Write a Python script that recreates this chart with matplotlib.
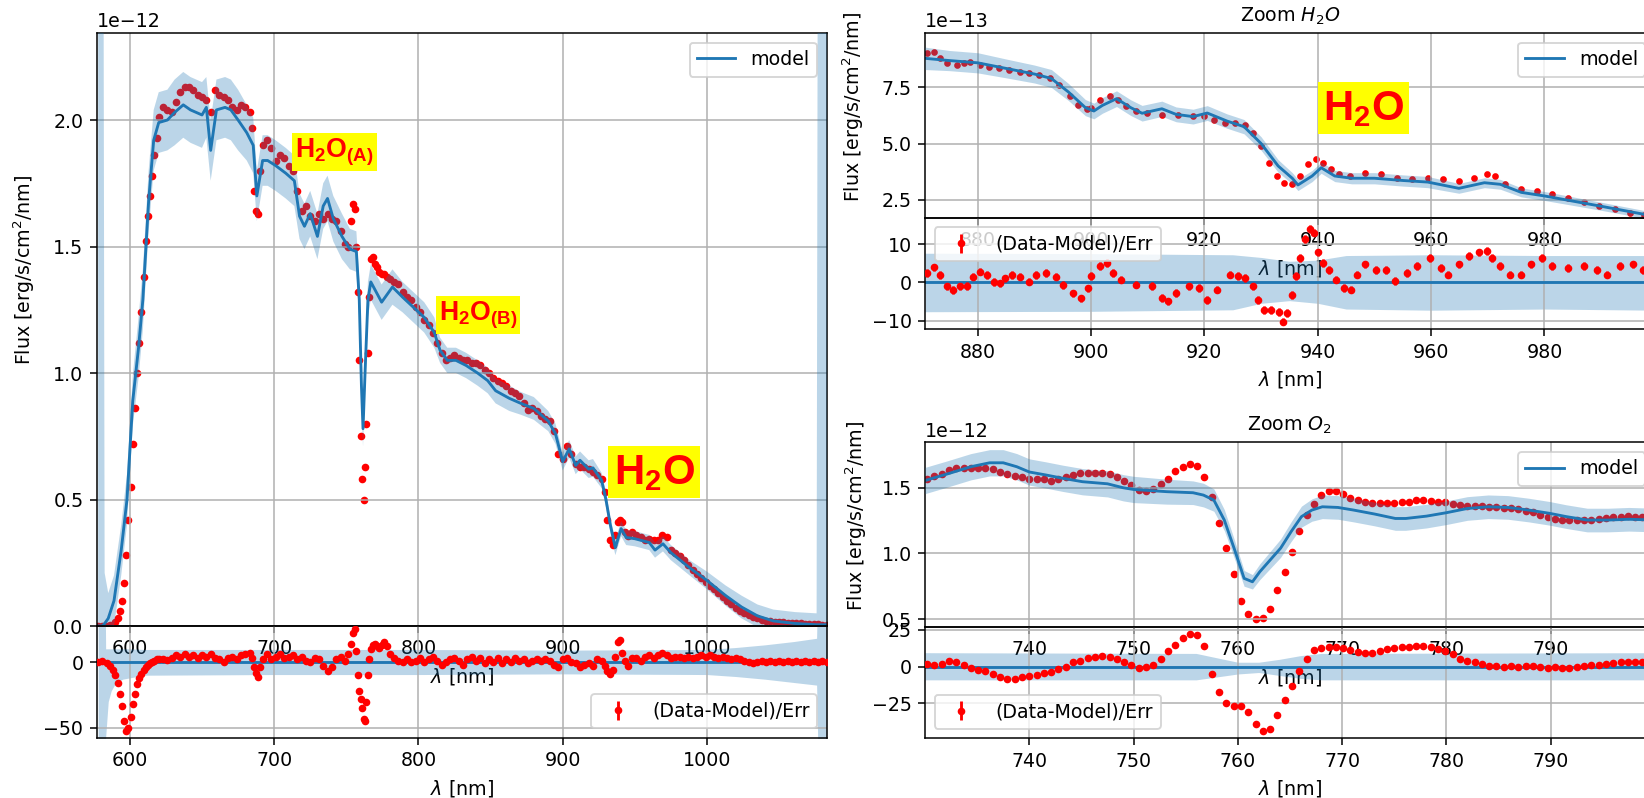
import numpy as np
import matplotlib.pyplot as plt
from matplotlib import font_manager

# ---------------- full spectrum (left), flux in 1e-12 erg/s/cm2/nm ----------------
wl_data = [578, 581, 584, 586, 588, 590, 591.5, 593, 594.5, 596, 597.5, 599, 600.5, 602, 603.5, 605,
           606.5, 608, 609.5, 611, 612.5, 614, 615.5, 617, 618.5, 620, 623, 626, 629, 632, 635, 638,
           641, 644, 647, 650, 653, 656, 659, 662, 665, 668, 671, 674, 677, 680, 683, 684.5, 686,
           687.5, 689, 690.5, 692, 695, 698, 701, 704, 707, 710, 713, 716, 719, 722, 725, 728, 731,
           734, 737, 740, 743, 746, 749, 751, 753, 754.5, 756, 757, 758, 759, 760, 761, 762, 763,
           764, 765, 766, 767, 768.5, 770, 771.5, 773, 774.5, 776, 778, 780, 783, 786, 789, 792,
           795, 798, 801, 804, 807, 810, 813, 816, 819, 822, 825, 828, 831, 834, 837, 840, 843,
           846, 849, 852, 855, 858, 861, 864, 867, 870, 873, 876, 879, 882, 885, 888, 891, 894,
           897, 900, 903, 906, 909, 912, 915, 918, 921, 924, 927, 929, 931, 933, 935, 936.5, 938,
           939.5, 941, 943, 945, 948, 951, 954, 957, 960, 963, 966, 969, 972, 975, 978, 981, 984,
           987, 990, 993, 996, 999, 1002, 1005, 1008, 1011, 1014, 1017, 1020, 1023, 1026, 1029,
           1032, 1035, 1038, 1041, 1044, 1047, 1050, 1053, 1056, 1059, 1062, 1065, 1068, 1071,
           1074, 1077, 1080, 1083]
flux_data = [0.0, 0.0, 0.0, 0.002, 0.005, 0.015, 0.03, 0.06, 0.10, 0.17, 0.28, 0.42, 0.55, 0.72, 0.86,
             1.00, 1.12, 1.24, 1.38, 1.52, 1.62, 1.70, 1.78, 1.86, 1.93, 2.01, 2.05, 2.04, 2.03, 2.07,
             2.11, 2.13, 2.13, 2.12, 2.10, 2.09, 2.08, 2.03, 2.12, 2.10, 2.09, 2.08, 2.05, 2.04, 2.06,
             2.05, 2.03, 1.97, 1.72, 1.64, 1.63, 1.80, 1.90, 1.92, 1.89, 1.84, 1.86, 1.85, 1.82, 1.80,
             1.72, 1.64, 1.66, 1.62, 1.60, 1.63, 1.61, 1.63, 1.61, 1.60, 1.56, 1.51, 1.50, 1.60, 1.67,
             1.65, 1.50, 1.32, 1.05, 0.75, 0.58, 0.50, 0.63, 0.80, 1.08, 1.30, 1.45, 1.46, 1.43, 1.42,
             1.40, 1.39, 1.39, 1.38, 1.37, 1.36, 1.35, 1.32, 1.30, 1.29, 1.26, 1.24, 1.21, 1.19, 1.16,
             1.12, 1.08, 1.05, 1.06, 1.07, 1.06, 1.05, 1.05, 1.04, 1.04, 1.03, 1.01, 1.00, 0.98, 0.97,
             0.96, 0.95, 0.93, 0.92, 0.91, 0.88, 0.855, 0.86, 0.85, 0.83, 0.82, 0.81, 0.77, 0.68, 0.66,
             0.71, 0.68, 0.64, 0.63, 0.63, 0.62, 0.61, 0.595, 0.58, 0.53, 0.42, 0.34, 0.32, 0.36, 0.41,
             0.42, 0.41, 0.37, 0.355, 0.37, 0.36, 0.35, 0.34, 0.345, 0.34, 0.34, 0.36, 0.35, 0.30,
             0.29, 0.275, 0.26, 0.24, 0.22, 0.205, 0.19, 0.175, 0.16, 0.145, 0.13, 0.115, 0.10, 0.085,
             0.07, 0.06, 0.05, 0.042, 0.035, 0.03, 0.025, 0.021, 0.019, 0.017, 0.015, 0.014, 0.013,
             0.012, 0.011, 0.01, 0.009, 0.008, 0.007, 0.006, 0.005, 0.004]
resid_data = [0, 0.5, -1, -3, -6, -10, -16, -24, -33, -45, -52, -50, -42, -32, -24, -17, -12, -9, -6,
              -4, -2, -1, 0, 1, 2, 2, 2.5, 1.5, 3, 5, 4, 6, 4, 5, 3, 5, 4, 6, 3, 2, 0, 3, 4, 2, 5, 6,
              7, 3, -4, -8, -11, -4, 2, 6, 2, 4, 6, 3, 4, 5, 2, 4, 1, 0, 3, 2, -3, -7, -4, 2, 4, 1, 6,
              14, 22, 25, 8, -10, -22, -28, -35, -43, -45, -30, -10, 2, 10, 13, 14, 12, 11, 13, 15, 12,
              6, 3, 1, 0, 2, 0, 1, 3, 0, 2, 4, 1, -2, 0, 2, 3, 1, -2, 2, 4, 1, 3, -1, 2, 0, 3, -1, 2,
              0, 3, 1, 2, -1, 1, 2, 1, 2, 1, -2, -4, 2, 3, 0, -1, -4, -2, -1, -3, 2, 1, -3, -7, -9,
              -6, 4, 15, 17, 7, 1, -3, 3, 3, 1, 4, 5, 3, 5, 7, 5, 3, 4, 4, 3, 4, 3, 4, 5, 4, 5, 4,
              3, 4, 3, 2, 3, 2, 1, 0, -1, 0, 1, 0, 1, 0, 1, 0, 1, 0, 1, 0, 1, 0, 1, 0, 1, 0]

wl_model = [578, 581, 582.5, 585, 589, 594, 598, 602, 606, 609, 613, 616.5, 620, 626, 631, 637, 642,
            650, 653, 656, 660, 666, 670, 675, 681, 685.5, 688, 692, 695.5, 701, 708, 714, 717.6, 721,
            725, 730, 734, 737, 741, 747, 752.5, 757, 759, 760.5, 761.6, 763, 765, 767, 774.5, 782,
            789, 796.5, 804, 811, 815, 820, 826, 833, 841, 848, 853.5, 863, 871, 880, 890, 895, 900,
            904.5, 909, 912, 918, 921, 927, 930, 933, 936.5, 940.5, 944, 950, 960, 964, 969.5, 975,
            980, 988, 1000, 1013, 1024, 1035, 1046, 1061, 1076, 1077.5, 1083]
flux_model = [0.0, 0.0, 0.01, 0.03, 0.10, 0.30, 0.50, 0.89, 1.10, 1.29, 1.68, 1.92, 1.99, 2.00, 2.03,
              2.06, 2.04, 2.02, 2.05, 1.88, 2.04, 2.05, 2.04, 2.00, 1.95, 1.90, 1.70, 1.84, 1.84, 1.82,
              1.79, 1.76, 1.62, 1.58, 1.63, 1.54, 1.66, 1.69, 1.61, 1.54, 1.49, 1.48, 1.29, 0.95, 0.78,
              1.00, 1.29, 1.36, 1.28, 1.34, 1.30, 1.26, 1.22, 1.16, 1.09, 1.05, 1.05, 1.03, 1.00, 0.97,
              0.93, 0.90, 0.88, 0.86, 0.81, 0.76, 0.65, 0.70, 0.635, 0.655, 0.62, 0.625, 0.575, 0.50,
              0.40, 0.31, 0.385, 0.35, 0.345, 0.33, 0.30, 0.325, 0.29, 0.267, 0.23, 0.18, 0.12, 0.075,
              0.04, 0.02, 0.01, 0.005, 0.005, 0.005]
err_model = [5, 5, 0.2, 0.1, 0.1, 0.1, 0.1, 0.1, 0.12, 0.12, 0.12, 0.12, 0.12, 0.12, 0.13, 0.13, 0.13,
             0.13, 0.12, 0.12, 0.12, 0.12, 0.12, 0.12, 0.11, 0.11, 0.10, 0.10, 0.10, 0.10, 0.10, 0.10,
             0.09, 0.09, 0.09, 0.09, 0.09, 0.09, 0.09, 0.09, 0.08, 0.08, 0.08, 0.07, 0.07, 0.07, 0.07,
             0.07, 0.07, 0.07, 0.06, 0.06, 0.06, 0.06, 0.05, 0.05, 0.05, 0.05, 0.05, 0.05, 0.05, 0.05,
             0.045, 0.045, 0.04, 0.04, 0.035, 0.035, 0.035, 0.035, 0.035, 0.035, 0.03, 0.03, 0.03,
             0.03, 0.03, 0.03, 0.03, 0.03, 0.03, 0.03, 0.03, 0.03, 0.03, 0.035, 0.04, 0.045, 0.045,
             0.045, 0.045, 0.045, 5, 5]

# residual error band of the full spectrum (lower / upper edge)
wl_rband = [578, 582.5, 583.2, 585, 587, 590, 595, 600, 610, 700, 800, 900, 1000, 1020, 1040, 1060,
            1076, 1077.5, 1083]
rband_lo = [-100, -100, -57, -30, -22, -16, -13, -12, -10, -9.5, -9.5, -9, -9.5, -11, -13, -15.5,
            -17.5, -100, -100]
rband_hi = [100, 100, 10, 10, 10, 10, 10, 10, 9.5, 9.5, 9.5, 9, 9.5, 11, 13, 15.5, 18, 100, 100]

# ---------------- zoom on H2O band, flux in 1e-13 ----------------
h2o_wl = [871.0, 872.2, 873.3, 874.5, 876.3, 877.5, 878.7, 880.4, 882.0, 883.8, 885.6, 887.4, 889.1,
          890.9, 892.7, 894.4, 896.2, 897.7, 899.2, 900.0, 901.6, 903.4, 904.8, 906.1, 908.0, 909.8,
          912.6, 915.3, 918.0, 919.9, 921.7, 923.6, 925.4, 927.2, 928.6, 930.0, 931.4, 932.8, 934.1,
          935.5, 936.9, 938.3, 939.6, 941.0, 942.4, 943.8, 945.6, 948.3, 951.1, 953.9, 956.6, 959.4,
          962.1, 964.9, 967.6, 969.9, 971.3, 973.1, 975.9, 978.6, 981.4, 984.1, 986.9, 989.6, 992.4,
          995.1, 997.5]
h2o_flux = [9.03, 9.10, 8.81, 8.58, 8.50, 8.58, 8.65, 8.50, 8.43, 8.36, 8.28, 8.20, 8.13, 8.06, 7.92,
            7.62, 7.10, 6.74, 6.52, 6.58, 6.95, 7.10, 6.95, 6.66, 6.43, 6.36, 6.29, 6.29, 6.21, 6.21,
            6.06, 5.92, 5.92, 5.84, 5.47, 4.88, 4.14, 3.55, 3.25, 3.18, 3.55, 4.07, 4.29, 4.14, 3.85,
            3.62, 3.55, 3.70, 3.62, 3.48, 3.40, 3.48, 3.40, 3.33, 3.48, 3.62, 3.55, 3.18, 2.96, 2.88,
            2.74, 2.59, 2.37, 2.22, 2.07, 1.92, 1.80]
h2o_mwl = [870.7, 875, 880, 885, 890, 893, 896, 899, 900.5, 902, 904.5, 907, 909, 912.5, 915, 918,
           920.5, 924, 927, 930, 933, 935.5, 936.5, 939, 940.6, 943, 946, 950, 955, 959.4, 964.9,
           969.4, 972.2, 975.9, 980, 990, 999.5]
h2o_model = [8.8, 8.7, 8.6, 8.35, 8.1, 7.9, 7.3, 6.6, 6.45, 6.7, 7.0, 6.6, 6.35, 6.55, 6.3, 6.2, 6.36,
             6.0, 5.75, 5.0, 4.0, 3.45, 3.15, 3.55, 3.92, 3.55, 3.45, 3.45, 3.35, 3.28, 3.0, 3.25,
             3.18, 2.82, 2.66, 2.2, 1.75]
h2o_err = [0.5, 0.45, 0.45, 0.42, 0.4, 0.4, 0.38, 0.36, 0.35, 0.35, 0.35, 0.35, 0.35, 0.34, 0.33, 0.33,
           0.33, 0.32, 0.32, 0.3, 0.28, 0.25, 0.25, 0.25, 0.25, 0.25, 0.25, 0.25, 0.25, 0.25, 0.22,
           0.22, 0.22, 0.2, 0.2, 0.18, 0.17]
h2o_rwl = [871.0, 872.2, 873.3, 874.5, 875.7, 876.9, 878.1, 879.2, 880.4, 881.6, 882.8, 884.0, 884.8,
           886.0, 887.4, 889.1, 890.3, 892.1, 893.9, 895.1, 896.8, 898.3, 899.5, 900.0, 901.6, 902.8,
           903.9, 905.2, 908.0, 910.7, 912.6, 913.5, 914.9, 917.2, 919.0, 920.4, 922.2, 924.5, 925.9,
           927.2, 928.6, 929.5, 930.5, 931.8, 933.2, 933.9, 934.6, 935.5, 936.2, 936.9, 937.8, 938.7,
           939.4, 940.1, 941.0, 941.9, 943.3, 944.7, 945.8, 947.0, 948.3, 950.2, 952.0, 953.7, 955.7,
           957.5, 959.8, 961.7, 963.0, 964.9, 966.7, 968.5, 969.9, 970.8, 972.2, 974.0, 975.9, 977.7,
           979.5, 981.4, 984.1, 986.9, 989.2, 991.0, 993.3, 995.6, 997.4]
h2o_resid = [2.4, 3.9, 1.9, -1.1, -2.0, -1.1, -1.0, 1.5, 2.8, 1.9, 0.0, -0.3, 1.0, 1.9, 1.5, 0.2, 1.9,
             2.4, 1.5, -0.7, -2.9, -4.2, -1.6, 1.6, 4.2, 5.1, 2.5, 0.7, -0.6, -0.9, -4.1, -5.0, -2.8,
             -1.1, -1.5, -4.6, -1.9, 2.0, 1.6, 1.1, -1.1, -4.6, -7.2, -7.2, -7.7, -10.3, -8.1, -3.3,
             1.6, 6.4, 11.3, 13.9, 13.0, 7.8, 5.1, 3.3, 0.7, -1.5, -1.9, 2.0, 4.7, 3.3, 3.3, 0.3, 2.5,
             4.2, 6.4, 3.8, 2.0, 4.7, 6.9, 7.8, 8.2, 6.4, 4.2, 2.0, 2.0, 4.7, 6.4, 4.2, 3.8, 4.2, 3.2,
             2.0, 4.2, 4.7, 3.3]
h2o_bwl = [870.7, 900, 925, 930, 935, 940, 945, 960, 980, 999.5]
h2o_band_lo = [-7.7, -7.6, -7.2, -5.5, -4.8, -5.5, -7.0, -7.3, -7.0, -7.3]
h2o_band_hi = [7.6, 7.5, 7.2, 6.5, 5.5, 5.8, 7.0, 7.2, 7.0, 7.0]

# ---------------- zoom on O2 band, flux in 1e-12 ----------------
o2_wl = np.arange(730.2, 799.6, 0.7)
o2_flux = [1.564, 1.589, 1.604, 1.635, 1.648, 1.652, 1.648, 1.648, 1.652, 1.64, 1.622, 1.604, 1.589,
           1.579, 1.569, 1.564, 1.566, 1.553, 1.564, 1.584, 1.597, 1.61, 1.615, 1.614, 1.612, 1.605,
           1.582, 1.555, 1.52, 1.485, 1.477, 1.49, 1.53, 1.57, 1.625, 1.66, 1.68, 1.665, 1.58, 1.43,
           1.23, 1.04, 0.84, 0.64, 0.535, 0.50, 0.51, 0.58, 0.72, 0.86, 1.01, 1.17, 1.29, 1.38, 1.445,
           1.475, 1.475, 1.455, 1.425, 1.405, 1.392, 1.386, 1.386, 1.386, 1.386, 1.388, 1.395, 1.404,
           1.405, 1.398, 1.395, 1.39, 1.378, 1.368, 1.362, 1.36, 1.358, 1.355, 1.352, 1.348, 1.342,
           1.335, 1.325, 1.312, 1.295, 1.278, 1.265, 1.258, 1.254, 1.252, 1.252, 1.255, 1.26, 1.268,
           1.276, 1.28, 1.282, 1.28, 1.28, 1.28]
o2_resid = [1.9, 1.2, 1.7, 3.8, 2.9, 1.0, -1.2, -2.4, -2.9, -4.8, -7.1, -8.3, -8.3, -7.1, -6.7, -5.5,
            -4.3, -3.6, -1.9, -0.5, 2.9, 4.0, 6.0, 6.8, 7.0, 6.3, 4.9, 3.0, 0.8, -0.9, -0.2, 1.4, 5.5,
            10.5, 15, 19.6, 22.3, 21.5, 14, -5, -17, -25, -27, -27, -31, -39, -43.5, -42.5, -33, -23,
            -13, -3, 5.5, 11, 13, 13.7, 13.6, 13, 11.2, 10.2, 9.3, 9.6, 10.6, 11.7, 12.8, 13.3, 13.3,
            13.8, 13.9, 13.3, 12.2, 10.5, 8.5, 5.5, 4.0, 3.0, 1.6, 0.6, 0.2, 0.0, 0.3, 0.0, 0.4, 0.1,
            -0.2, -0.6, -0.3, -0.8, -1.2, -0.4, 0.3, 0.8, 1.1, 1.6, 2.6, 3.1, 3.0, 3.3, 3.5, 3.2]
o2_mwl = [730.0, 732.1, 734.4, 736.2, 737.5, 738.8, 740.0, 741.6, 743.2, 745.1, 747.5, 749.0, 750.0,
          753.2, 755.7, 756.7, 757.7, 758.7, 759.7, 760.6, 761.4, 762.1, 763.1, 764.1, 765.1, 766.1,
          767.1, 768.1, 769.6, 771.1, 773.1, 775.1, 776.1, 778.1, 780.0, 782.0, 784.0, 785.9, 787.9,
          789.9, 791.5, 793.5, 795.5, 797.5, 800.0]
o2_model = [1.555, 1.604, 1.66, 1.69, 1.69, 1.66, 1.62, 1.597, 1.572, 1.546, 1.53, 1.50, 1.487, 1.47,
            1.462, 1.444, 1.406, 1.254, 1.025, 0.81, 0.784, 0.86, 0.95, 1.04, 1.165, 1.28, 1.33,
            1.355, 1.35, 1.33, 1.30, 1.266, 1.266, 1.284, 1.31, 1.342, 1.355, 1.35, 1.33, 1.305, 1.28,
            1.254, 1.254, 1.26, 1.254]
o2_err = [0.1, 0.1, 0.1, 0.1, 0.1, 0.1, 0.1, 0.1, 0.1, 0.1, 0.1, 0.1, 0.1, 0.095, 0.09, 0.09, 0.085,
          0.08, 0.07, 0.06, 0.055, 0.06, 0.065, 0.07, 0.075, 0.08, 0.085, 0.09, 0.09, 0.09, 0.09, 0.09,
          0.09, 0.09, 0.09, 0.09, 0.09, 0.09, 0.09, 0.09, 0.09, 0.09, 0.09, 0.09, 0.09]
o2_bwl = [730, 756, 758, 760, 762, 764, 766, 768, 800]
o2_band_lo = [-9, -9, -7, -5, -4, -6, -8, -9, -9]
o2_band_hi = [9.5, 9, 6, 3, 3, 5, 7.5, 9, 9.5]

# fonts: condensed bold for the yellow tags if there is one, DejaVu for the rest
names = {f.name for f in font_manager.fontManager.ttflist}
tag_font = 'Liberation Sans Narrow' if 'Liberation Sans Narrow' in names else 'Liberation Sans'
plt.rcParams['mathtext.fontset'] = 'custom'
plt.rcParams['mathtext.rm'] = 'DejaVu Sans'
plt.rcParams['mathtext.it'] = 'DejaVu Sans:italic'
plt.rcParams['mathtext.bf'] = tag_font + ':bold'

W, H = 1644, 798
DPI = 137
fig = plt.figure(figsize=(W / DPI, H / DPI), dpi=DPI)


def px_axes(x0, y0, x1, y1):
    # axes from pixel box (top-left origin)
    ax = fig.add_axes([x0 / W, 1 - y1 / H, (x1 - x0) / W, (y1 - y0) / H])
    return ax


def spectrum(ax, wl, flux, mwl, model, err, scale, ms=6):
    flux = np.array(flux) * scale
    model = np.array(model) * scale
    err = np.array(err) * scale
    ax.plot(wl, flux, '.', color='red', ms=ms, zorder=1)
    ax.plot(mwl, model, color='C0', lw=1.5, label='model', zorder=2)
    ax.fill_between(mwl, model - err, model + err, color='C0', alpha=0.3, lw=0, zorder=3)
    ax.grid(True)
    ax.set_xlabel(r'$\lambda$ [nm]')
    ax.legend(loc='upper right')


def residual(ax, rwl, res, bwl, lo, hi, loc):
    ax.set_facecolor('none')  # keep the upper panel's tick labels visible
    ax.fill_between(bwl, lo, hi, color='C0', alpha=0.3, lw=0, zorder=1)
    ax.axhline(0, color='C0', lw=1.5, zorder=2)
    ax.errorbar(rwl, res, yerr=1, fmt='.', color='red', ms=6, zorder=3, label='(Data-Model)/Err')
    ax.grid(True)
    ax.set_xlabel(r'$\lambda$ [nm]')
    ax.legend(loc=loc)


# left: full spectrum
ax1 = px_axes(96.7, 33, 826.7, 626)
spectrum(ax1, wl_data, flux_data, wl_model, flux_model, err_model, 1e-12)
ax1.set_xlim(577, 1083)
ax1.set_ylim(0, 2.344e-12)
ax1.set_xticks([600, 700, 800, 900, 1000])

ax1r = px_axes(96.7, 626, 826.7, 738)
residual(ax1r, wl_data, resid_data, wl_rband, rband_lo, rband_hi, 'lower right')
ax1r.set_xlim(577, 1083)
ax1r.set_ylim(-57.6, 27.3)
ax1r.set_yticks([-50, 0])
ax1r.set_xticks([600, 700, 800, 900, 1000])

# right top: H2O zoom
h2o_ticks = [880, 900, 920, 940, 960, 980]
ax2 = px_axes(925, 33, 1655, 217.7)
spectrum(ax2, h2o_wl, h2o_flux, h2o_mwl, h2o_model, h2o_err, 1e-13, ms=5)
ax2.set_xlim(870.7, 999.5)
ax2.set_ylim(1.69e-13, 9.93e-13)
ax2.set_xticks(h2o_ticks)
ax2.set_yticks([2.5e-13, 5e-13, 7.5e-13])
ax2.set_title('Zoom $H_2O$', fontsize=10)

ax2r = px_axes(925, 217.7, 1655, 329.3)
residual(ax2r, h2o_rwl, h2o_resid, h2o_bwl, h2o_band_lo, h2o_band_hi, 'upper left')
ax2r.set_xlim(870.7, 999.5)
ax2r.set_ylim(-12.3, 16.9)
ax2r.set_xticks(h2o_ticks)
ax2r.set_yticks([-10, 0, 10])

# right bottom: O2 zoom
o2_ticks = [740, 750, 760, 770, 780, 790]
ax3 = px_axes(925, 442.3, 1655, 626.7)
spectrum(ax3, o2_wl, o2_flux, o2_mwl, o2_model, o2_err, 1e-12)
ax3.set_xlim(730, 800)
ax3.set_ylim(0.442e-12, 1.846e-12)
ax3.set_xticks(o2_ticks)
ax3.set_yticks([0.5e-12, 1e-12, 1.5e-12])
ax3.set_title('Zoom $O_2$', fontsize=10)

ax3r = px_axes(925, 626.7, 1655, 738.3)
residual(ax3r, o2_wl, o2_resid, o2_bwl, o2_band_lo, o2_band_hi, 'lower left')
ax3r.set_xlim(730, 800)
ax3r.set_ylim(-48.8, 27.2)
ax3r.set_xticks(o2_ticks)
ax3r.set_yticks([-25, 0, 25])

# y labels
ylab = 'Flux [erg/s/cm$^2$/nm]'
for x, y in [(24, 270), (853, 107), (856, 516)]:
    fig.text(x / W, 1 - y / H, ylab, rotation=90, ha='center', va='center', fontsize=10)


# yellow tags
def tag(x, y, s, size):
    fig.text(x / W, 1 - y / H, s, fontsize=size, color='red', ha='center', va='center',
             bbox=dict(boxstyle='square,pad=0.12', fc='yellow', ec='none'))


tag(334.5, 152, r'$\mathbf{H_2O_{(A)}}$', 14)
tag(478, 315, r'$\mathbf{H_2O_{(B)}}$', 14)
tag(654, 472, r'$\mathbf{H_2O}$', 22)
tag(1363.5, 108, r'$\mathbf{H_2O}$', 22)

fig.savefig('out.png', dpi=DPI)
